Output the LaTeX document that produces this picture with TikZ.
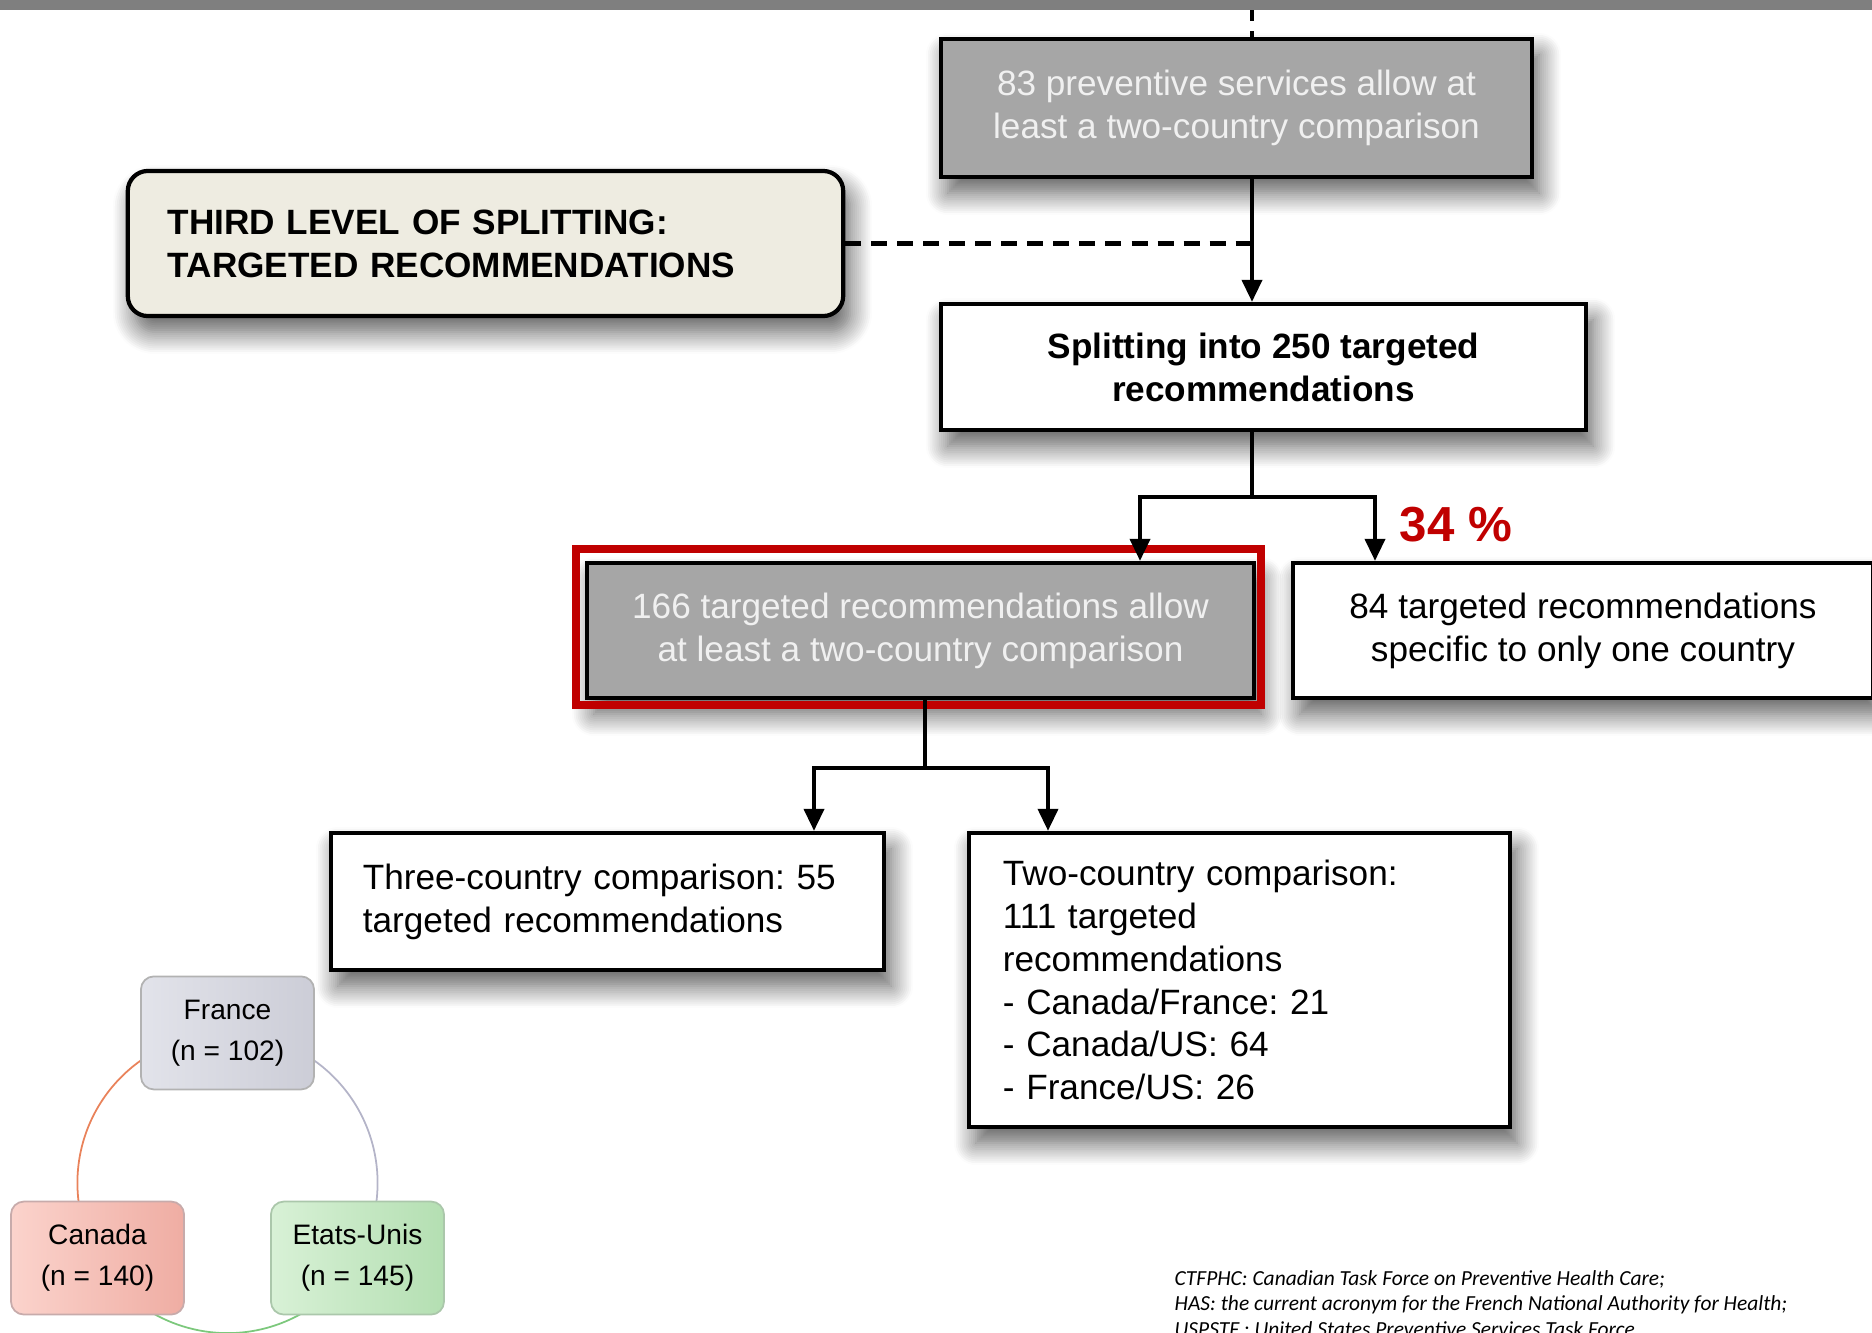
\documentclass[tikz,border=0pt]{standalone}
\usepackage{fontspec}
\setmainfont{Liberation Sans}
\newfontfamily\notefont{Carlito}
\usepackage{xcolor}
\usetikzlibrary{arrows.meta,positioning,shadows.blur,calc}
\frenchspacing

\definecolor{bargray}{HTML}{7F7F7F}
\definecolor{boxgray}{HTML}{A6A6A6}
\definecolor{tanbox}{HTML}{EEECE1}
\definecolor{hired}{HTML}{C00000}
\definecolor{arcorange}{HTML}{E9825A}
\definecolor{arclav}{HTML}{B4B4C8}
\definecolor{arcgreen}{HTML}{7CC87C}
\definecolor{franceleft}{HTML}{E2E3EA}
\definecolor{franceright}{HTML}{CCCDD7}
\definecolor{canadaleft}{HTML}{FBD3CC}
\definecolor{canadaright}{HTML}{EFADA3}
\definecolor{usaleft}{HTML}{D8F1D6}
\definecolor{usaright}{HTML}{B4DFB2}

\tikzset{
  flowbox/.style={draw=black, line width=1.2pt, fill=white, inner sep=0pt,
    font=\fontsize{10}{12.2}\selectfont,
    blur shadow={shadow xshift=0.07cm, shadow yshift=-0.16cm,
      shadow blur radius=0.22cm, shadow blur steps=12, shadow opacity=65}},
  graybox/.style={flowbox, fill=boxgray, text=white!94!black},
  flowline/.style={line width=1.1pt},
  flowarrow/.style={flowline, -{Triangle[length=0.22cm,width=0.2cm]}},
  country/.style={draw=#1, line width=0.5pt, rounded corners=0.13cm,
    minimum width=1.73cm, minimum height=1.13cm, align=center,
    font=\fontsize{8}{11.6}\selectfont}
}

\begin{document}
\begin{tikzpicture}[x=0.01cm, y=-0.01cm]
\useasboundingbox (0,0) rectangle (1872,1333);
% Top bar
\fill[bargray] (0,0) rectangle (1872,10);

% Main flow
\coordinate (spine) at (1252,10);
\node[graybox, minimum width=5.91cm, minimum height=1.38cm, align=center] (services) at (1236.5,108)
  {83 preventive services allow at\\least a two-country comparison};
\node[flowbox, fill=tanbox, rounded corners=0.2cm, minimum width=7.15cm, minimum height=1.45cm,
  text width=6.35cm, align=left, font=\bfseries\fontsize{10}{12.2}\selectfont] (level) at (485.5,243.5)
  {THIRD LEVEL OF SPLITTING:\\TARGETED RECOMMENDATIONS};
\node[flowbox, minimum width=6.45cm, minimum height=1.26cm, align=center,
  font=\bfseries\fontsize{10}{12.2}\selectfont] (split) at (1263.5,367)
  {Splitting into 250 targeted\\recommendations};

\draw[flowline, dashed] (spine) -- (services.north -| spine);
\draw[flowarrow] (services.south -| spine) -- (split.north -| spine);
\draw[line width=1.3pt, dash pattern=on 0.16cm off 0.1cm] (level.east) -- (level.east -| spine);

% Second level
\node[graybox, minimum width=6.67cm, minimum height=1.35cm, align=center] (allow) at (920.5,630.5)
  {166 targeted recommendations allow\\at least a two-country comparison};
\node[flowbox, minimum width=5.8cm, minimum height=1.35cm, align=center] (one) at (1583,630.5)
  {84 targeted recommendations\\specific to only one country};
\draw[hired, line width=0.08cm] ($(allow.north west)+(-9,-12)$) rectangle ($(allow.south east)+(5,5)$);

\coordinate (fork1) at (1252,497);
\coordinate (leftdrop) at (1140,497);
\coordinate (rightdrop) at (1375,497);
\draw[flowline] (split.south -| fork1) -- (fork1);
\draw[flowarrow] (fork1) -| (allow.north -| leftdrop);
\draw[flowarrow] (fork1) -| (one.north -| rightdrop);
\node[text=hired, font=\bfseries\fontsize{14}{16}\selectfont] (pct) at (1456,525) {34 \%};

% Third level
\node[flowbox, minimum width=5.53cm, minimum height=1.37cm, text width=4.89cm, align=left] (three) at (607.5,901.5)
  {Three-country comparison: 55\\targeted recommendations};
\node[flowbox, minimum width=5.41cm, minimum height=2.94cm, text width=4.73cm, align=left] (two) at (1239.5,980)
  {Two-country comparison:\\111 targeted\\recommendations\\- Canada/France: 21\\- Canada/US: 64\\- France/US: 26};

\coordinate (fork2) at (925,768);
\coordinate (threedrop) at (814,768);
\coordinate (twodrop) at (1048,768);
\draw[flowline] (allow.south -| fork2) -- (fork2);
\draw[flowarrow] (fork2) -| (three.north -| threedrop);
\draw[flowarrow] (fork2) -| (two.north -| twodrop);

% Country ring
\coordinate (ring) at (227.5,1183);
\draw[arcorange, line width=0.5pt] ([shift={(90:1.5cm)}]ring) arc[start angle=90, end angle=210, radius=1.5cm];
\draw[arclav, line width=0.5pt] ([shift={(90:1.5cm)}]ring) arc[start angle=90, end angle=-30, radius=1.5cm];
\draw[arcgreen, line width=0.5pt] ([shift={(210:1.5cm)}]ring) arc[start angle=210, end angle=330, radius=1.5cm];

\node[country=gray!60, left color=franceleft, right color=franceright] (france) at ([shift={(90:1.5cm)}]ring)
  {France\\(n = 102)};
\node[country=red!20!gray!55, left color=canadaleft, right color=canadaright] (canada) at ([shift={(210:1.5cm)}]ring)
  {Canada\\(n = 140)};
\node[country=green!20!gray!55, left color=usaleft, right color=usaright] (usa) at ([shift={(330:1.5cm)}]ring)
  {Etats-Unis\\(n = 145)};

% Notes
\node[anchor=north west, inner sep=0pt, align=left, font=\notefont\itshape\fontsize{6.1}{7.2}\selectfont] (notes) at (1174,1270)
  {CTFPHC: Canadian Task Force on Preventive Health Care;\\
   HAS: the current acronym for the French National Authority for Health;\\
   USPSTF : United States Preventive Services Task Force};
\end{tikzpicture}
\end{document}
